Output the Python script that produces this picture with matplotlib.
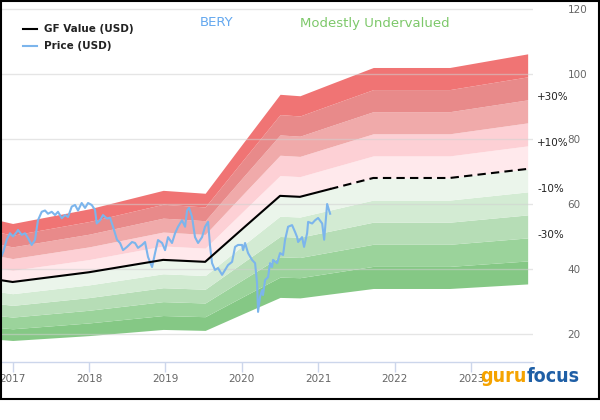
import matplotlib.pyplot as plt
from matplotlib.patches import Rectangle
from matplotlib.lines import Line2D

# GF Value (USD), decimal years
gf_years = [2016.835, 2017.0, 2018.0, 2018.97, 2019.52, 2020.02, 2020.5, 2020.76,
            2021.155, 2021.72, 2022.72, 2023.74]
gf_values = [36.6, 36.0, 39.0, 42.8, 42.2, 52.6, 62.5, 62.2, 64.6, 68.0, 68.0, 70.8]
last_price_year = 2021.155

# Price (USD)
price_years = [
    2016.835, 2016.878, 2016.923, 2016.966, 2017.005, 2017.054, 2017.071, 2017.119,
    2017.162, 2017.202, 2017.250, 2017.293, 2017.332, 2017.381, 2017.424, 2017.463,
    2017.512, 2017.555, 2017.594, 2017.643, 2017.686, 2017.725, 2017.774, 2017.817,
    2017.856, 2017.904, 2017.948, 2017.987, 2018.035, 2018.078, 2018.101, 2018.144,
    2018.183, 2018.236, 2018.275, 2018.314, 2018.366, 2018.406, 2018.445, 2018.497,
    2018.563, 2018.602, 2018.641, 2018.694, 2018.733, 2018.772, 2018.825, 2018.864,
    2018.903, 2018.956, 2018.995, 2019.034, 2019.086, 2019.126, 2019.165, 2019.217,
    2019.257, 2019.283, 2019.309, 2019.348, 2019.387, 2019.427, 2019.479, 2019.518,
    2019.558, 2019.584, 2019.610, 2019.649, 2019.688, 2019.741, 2019.780, 2019.819,
    2019.872, 2019.911, 2019.950, 2020.003, 2020.016, 2020.042, 2020.081, 2020.133,
    2020.173, 2020.199, 2020.212, 2020.238, 2020.264, 2020.277, 2020.304, 2020.343,
    2020.369, 2020.395, 2020.408, 2020.461, 2020.500, 2020.539, 2020.565, 2020.605,
    2020.657, 2020.696, 2020.723, 2020.736, 2020.788, 2020.814, 2020.854, 2020.867,
    2020.920, 2020.959, 2020.998, 2021.051, 2021.077, 2021.116, 2021.155]
price_values = [
    42.8, 45.3, 49.0, 51.0, 50.0, 51.4, 52.0, 50.5,
    51.0, 49.5, 47.4, 49.0, 55.0, 57.6, 58.0, 57.0,
    57.6, 56.6, 57.6, 55.6, 56.6, 56.0, 59.2, 59.7,
    58.0, 60.3, 58.8, 60.3, 59.7, 58.2, 54.0, 55.0,
    56.6, 55.5, 55.8, 53.0, 49.0, 48.0, 45.8, 46.8,
    48.3, 48.0, 46.5, 47.4, 48.3, 43.7, 40.6, 44.9,
    48.9, 48.0, 45.8, 49.8, 48.0, 51.0, 53.0, 55.0,
    53.0, 58.0, 58.8, 56.0, 49.8, 48.0, 49.8, 53.0,
    54.5, 47.0, 41.8, 39.7, 40.3, 38.2, 39.7, 41.2,
    42.2, 46.8, 47.4, 47.4, 45.8, 48.0, 44.9, 42.8,
    41.8, 35.7, 26.8, 31.4, 33.5, 32.0, 36.6, 37.5,
    41.8, 40.6, 42.8, 41.8, 44.9, 44.3, 48.9, 53.0,
    53.5, 51.4, 49.8, 48.3, 49.8, 46.8, 51.0, 54.5,
    54.0, 55.0, 55.7, 54.0, 49.0, 60.0, 57.0]

# valuation bands as multiples of GF Value
band_levels = [0.5, 0.6, 0.7, 0.8, 0.9, 1.0, 1.1, 1.2, 1.3, 1.4, 1.5]
band_colors = ['#85c885', '#9bd39b', '#b6ddb6', '#d3ebd3', '#ebf5eb',
               '#ffe9ec', '#fdd0d5', '#f0aaaa', '#e88a8a', '#f07474']
pct_labels = ['+30%', '+10%', '-10%', '-30%']
pct_levels = [1.3, 1.1, 0.9, 0.7]
year_ticks = [2017, 2018, 2019, 2020, 2021, 2022, 2023]
value_ticks = [20, 40, 60, 80, 100, 120]

W, H = 600, 420
fig = plt.figure(figsize=(6, 4.2), dpi=100)
ax = fig.add_axes([0, 1 - 362 / H, 533 / W, 360 / H])

# bands
for i in range(len(band_colors)):
    lo = [v * band_levels[i] for v in gf_values]
    hi = [v * band_levels[i + 1] for v in gf_values]
    ax.fill_between(gf_years, lo, hi, color=band_colors[i], lw=0, zorder=1)

# GF value line: solid up to last price, dashed after
k = gf_years.index(last_price_year)
ax.plot(gf_years[:k + 1], gf_values[:k + 1], color='black', lw=1.5, zorder=4)
ax.plot(gf_years[k:], gf_values[k:], color='black', lw=1.5, ls=(0, (4, 2.5)), zorder=4)

# price
ax.plot(price_years, price_values, color='#7cb5ec', lw=1.5, zorder=3,
        solid_joinstyle='round')

ax.set_xlim(2016.835, 2023.81)
ax.set_ylim(11.38, 122.15)

ax.set_axisbelow(False)
ax.set_yticks(value_ticks)
ax.grid(axis='y', color='#d0d0d0', alpha=0.55, lw=1)
ax.yaxis.tick_right()
ax.tick_params(axis='y', length=0, pad=25, labelsize=7.5, labelcolor='#666666')

ax.set_xticks(year_ticks)
ax.tick_params(axis='x', direction='out', length=7, width=1, color='#ccd6eb',
               labelsize=7.5, labelcolor='#666666', pad=2)
for s in ['top', 'left', 'right']:
    ax.spines[s].set_visible(False)
ax.spines['bottom'].set_color('#ccd6eb')
ax.spines['bottom'].set_linewidth(1)

# percent labels at the right end of the bands
for lab, lev in zip(pct_labels, pct_levels):
    ax.text(2023.865, gf_values[-1] * lev + 0.8, lab, fontsize=7.5, color='#222222',
            ha='left', va='center', clip_on=False)

# legend
fig.add_artist(Line2D([23 / W, 37 / W], [1 - 29 / H] * 2, color='black', lw=1.5))
fig.add_artist(Line2D([23 / W, 37 / W], [1 - 46 / H] * 2, color='#7cb5ec', lw=1.5))
fig.text(44 / W, 1 - 29 / H, 'GF Value (USD)', fontsize=7.5, fontweight='bold',
         color='#222222', va='center')
fig.text(44 / W, 1 - 46 / H, 'Price (USD)', fontsize=7.5, fontweight='bold',
         color='#222222', va='center')

# titles
fig.text(200 / W, 1 - 23 / H, 'BERY', fontsize=9.5, color='#64a8ef', va='center')
fig.text(300 / W, 1 - 23 / H, 'Modestly Undervalued', fontsize=9.5,
         color='#7dc86a', va='center')

# logo
logo_font = ['Liberation Sans Narrow', 'DejaVu Sans']
fig.text(527 / W, 1 - 376 / H, 'guru', fontsize=14, fontweight='bold', family=logo_font,
         stretch='condensed', color='#f5a300', ha='right', va='center')
fig.text(527 / W, 1 - 376 / H, 'focus', fontsize=14, fontweight='bold', family=logo_font,
         stretch='condensed', color='#1f5fa6', ha='left', va='center')

# outer border
fig.add_artist(Rectangle((0.5 / W, 1 - 399 / H), 598.5 / W, 398.5 / H,
                         transform=fig.transFigure, fill=False, ec='black', lw=1.5))

fig.savefig('out.png', dpi=100)
